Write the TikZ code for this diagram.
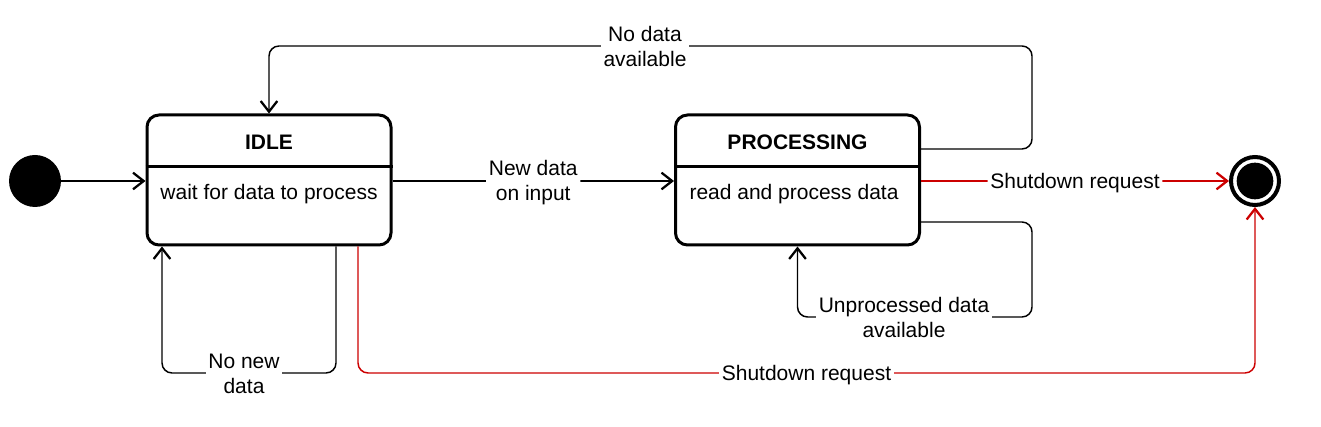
\documentclass[tikz,border=0pt]{standalone}
\usepackage{fontspec}
\setmainfont{Liberation Sans}
\usetikzlibrary{arrows.meta,positioning,calc}
\definecolor{shutred}{HTML}{CC0000}

\begin{document}
\begin{tikzpicture}[
    x=0.75pt, y=-0.75pt,
    font=\fontsize{15.75}{18.9}\selectfont,
    state/.style={draw, line width=2.25pt, rounded corners=9pt, minimum width=183pt,
                  minimum height=97.5pt, inner sep=0pt},
    head/.style={font=\fontsize{15.75}{18.9}\selectfont\bfseries},
    divider/.style={line width=2.25pt},
    flow/.style={-{Straight Barb[length=8pt, width=12.5pt, line width=1.7pt]}, line width=1.1pt,
                 rounded corners=7.5pt},
    shut/.style={flow, draw=shutred},
    lbl/.style={fill=white, align=center, inner sep=2pt, yshift=-1.2pt}
]
\useasboundingbox (0,0) rectangle (1321,427);

\node[circle, fill, minimum size=39pt, inner sep=0pt] (init) at (35,181) {};
\node[state] (idle) at (269,180) {};
\node[head] (idlehead) at (269,142) {IDLE};
\node (idlebody) at (269,194.5) {wait for data to process};
\draw[divider] (idle.west |- 0,167) -- (idle.east |- 0,167);

\node[state] (proc) at (797.5,180) {};
\node[head] (prochead) at (797.5,142) {PROCESSING};
\node (procbody) at (794,194.5) {read and process data};
\draw[divider] (proc.west |- 0,167) -- (proc.east |- 0,167);

\node[circle, draw, line width=3pt, minimum size=36pt, inner sep=0pt] (final) at (1255,181) {};
\fill (final.center) circle (13.75pt);

\coordinate (topturn) at (1032,46);
\coordinate (procturn) at (1032,317);
\coordinate (idleturn) at (336,373);
\coordinate (idleback) at (162,373);
\coordinate (shutturn) at (358,373);
\coordinate (finalturn) at (1255,373);

\draw[flow] (init) -- (init.east -| idle.west);
\draw[flow] (idle.east |- 0,181) -- node[lbl] {New data\\on input} (proc.west |- 0,181);
\draw[flow] (proc.east |- 0,149) -| (topturn) -| (idle.north);
\node[lbl] (nodata) at (645,45) {No data\\available};
\draw[shut] (proc.east |- 0,181) -- node[lbl] {Shutdown request} (final);
\draw[flow] (proc.east |- 0,222) -| (procturn) -| (proc.south);
\node[lbl] (unproc) at (904,316) {Unprocessed data\\available};
\draw[flow] (idle.south -| idleturn) -- (idleturn) -- (idleback) -- (idle.south -| idleback);
\node[lbl] (nonew) at (244,372) {No new\\data};
\draw[shut] (idle.south -| shutturn) -- (shutturn) -- node[lbl] {Shutdown request} (finalturn) -- (final);
\end{tikzpicture}
\end{document}
